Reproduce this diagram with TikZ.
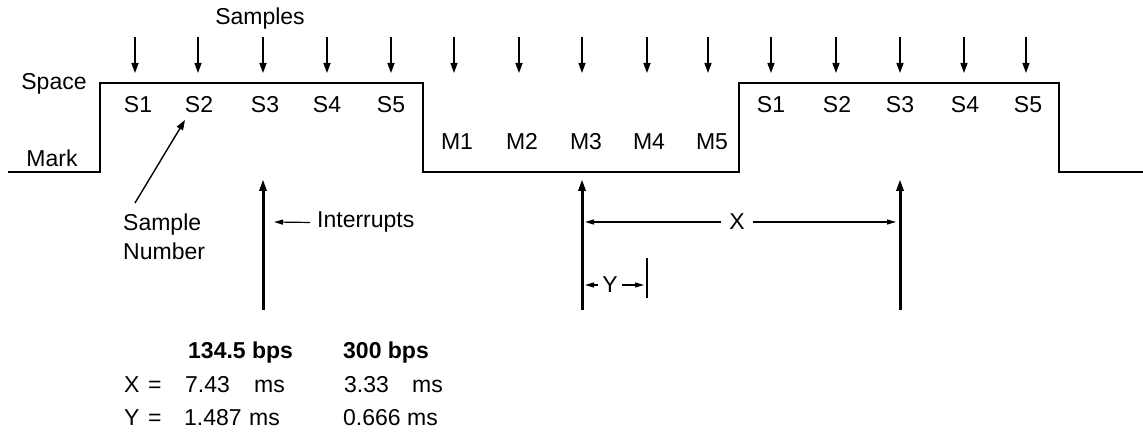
\documentclass[tikz,border=0pt]{standalone}
\usepackage{fontspec}
\setmainfont{Liberation Sans}
\usetikzlibrary{arrows.meta}
\begin{document}
\begin{tikzpicture}[x=1pt,y=-1pt,
  txt/.style={inner sep=0pt, font=\fontsize{23}{29}\selectfont},
  lbl/.style={txt, anchor=base},
  lblw/.style={txt, anchor=base west},
  wave/.style={line width=1.5pt, line join=miter},
  samp/.style={line width=1.4pt, -{Triangle[length=10pt,width=7pt]}},
  intr/.style={line width=3pt, -{Triangle[length=12pt,width=7pt]}},
  dimarrow/.style={line width=1.2pt, -{Triangle[length=9pt,width=5pt]}},
  thinline/.style={line width=1.3pt}]
\useasboundingbox (0,0) rectangle (1143,438);

% waveform
\draw[wave] (8,172) -- (100,172) -- (100,83) -- (423,83) -- (423,172)
  -- (739,172) -- (739,83) -- (1059,83) -- (1059,172) -- (1143,172);

% level labels
\node[lbl] (space) at (54,90) {Space};
\node[lbl] (mark) at (52,167) {Mark};
\node[lbl] (samples) at (260,25) {Samples};

% sample arrows
\foreach \x [count=\i] in {135,198,263,327,391,454,519,582,647,708,771,836,900,964,1026} {
  \coordinate (st\i) at (\x,37);
  \coordinate (sb\i) at (\x,73);
  \draw[samp] (st\i) -- (sb\i);
}

% sample labels
\foreach \x/\t [count=\i] in {138/S1,199/S2,265/S3,327/S4,391/S5,771/S1,837/S2,900/S3,965/S4,1028/S5} {
  \node[lbl] (s\i) at (\x,113) {\t};
}
\foreach \x/\t [count=\i] in {457/M1,522/M2,586/M3,649/M4,712/M5} {
  \node[lbl] (m\i) at (\x,150) {\t};
}

% sample number pointer
\node[lblw, align=left] (sn) at (123,260) {Sample\\Number};
\coordinate (snfoot) at (135,203);
\coordinate (sntip) at (185,120);
\draw[samp] (snfoot) -- (sntip);

% interrupts
\foreach \x [count=\i] in {263,582,900} {
  \coordinate (ib\i) at (\x,310);
  \coordinate (it\i) at (\x,179);
  \draw[intr] (ib\i) -- (it\i);
}
\node[lblw] (intl) at (317,228) {Interrupts};
\coordinate (inttip) at (274,222);
\draw[dimarrow] ([xshift=-7pt]intl.west) -- (inttip);

% X dimension
\node[txt] (xl) at (737,222) {X};
\coordinate (xleft) at (585,222);
\coordinate (xright) at (896,222);
\draw[dimarrow] ([xshift=-8pt]xl.west) -- (xleft);
\draw[dimarrow] ([xshift=8pt]xl.east) -- (xright);

% Y dimension
\node[txt] (yl) at (610,285) {Y};
\coordinate (yleft) at (585,285);
\coordinate (yright) at (644,285);
\draw[dimarrow] ([xshift=-4pt]yl.west) -- (yleft);
\draw[dimarrow] ([xshift=4pt]yl.east) -- (yright);
\coordinate (ybt) at (647,258);
\coordinate (ybb) at (647,298);
\draw[thinline] (ybt) -- (ybb);

% table
\node[lblw, font=\fontsize{23}{29}\selectfont\bfseries] (h1) at (188,358) {134.5 bps};
\node[lblw, font=\fontsize{23}{29}\selectfont\bfseries] (h2) at (343,358) {300 bps};
\node[lblw] (xa) at (124,392) {X};
\node[lblw] (xe) at (148,392) {=};
\node[lblw] (xv1) at (185,392) {7.43};
\node[lblw] (xu1) at (254,392) {ms};
\node[lblw] (xv2) at (344,392) {3.33};
\node[lblw] (xu2) at (412,392) {ms};
\node[lblw] (ya) at (124,425) {Y};
\node[lblw] (ye) at (148,425) {=};
\node[lblw] (yv1) at (184,425) {1.487};
\node[lblw] (yu1) at (249,425) {ms};
\node[lblw] (yv2) at (343,425) {0.666};
\node[lblw] (yu2) at (407,425) {ms};
\end{tikzpicture}
\end{document}
